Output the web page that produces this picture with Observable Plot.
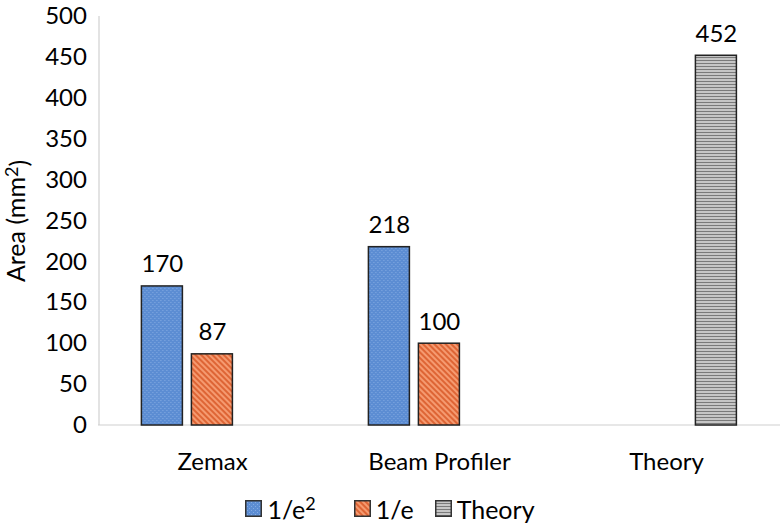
<!DOCTYPE html>
<html>
<head>
<meta charset="utf-8">
<script src="https://cdn.jsdelivr.net/npm/d3@7"></script>
<script src="https://cdn.jsdelivr.net/npm/@observablehq/plot@0.6"></script>
<style>
  html, body { margin: 0; padding: 0; background: #fff; }
  body { width: 780px; height: 527px; overflow: hidden; font-family: Lato, sans-serif; }
  #legend { display: flex; justify-content: center; align-items: center; height: 37px; font-size: 25px; color: #000; }
  .item { display: flex; align-items: center; }
  .item svg { margin-right: 5px; }
  .item sup { font-size: 0.72em; line-height: 0; position: relative; top: 0.05em; }
</style>
</head>
<body>
<svg width="0" height="0" style="position:absolute">
  <defs>
    <pattern id="pat-blue" width="4" height="4" patternUnits="userSpaceOnUse">
      <rect width="4" height="4" fill="#5c8dd3"></rect>
      <rect x="0" y="0" width="1" height="1" fill="#84abe2"></rect>
      <rect x="2" y="2" width="1" height="1" fill="#84abe2"></rect>
    </pattern>
    <pattern id="pat-orange" width="4" height="4" patternUnits="userSpaceOnUse" patternTransform="rotate(45)">
      <rect width="4" height="4" fill="#f59a70"></rect>
      <rect width="4" height="2" fill="#de6535"></rect>
    </pattern>
    <pattern id="pat-grey" width="4" height="3" patternUnits="userSpaceOnUse">
      <rect width="4" height="3" fill="#c6c6c6"></rect>
      <rect width="4" height="1" fill="#7a7a7a"></rect>
    </pattern>
  </defs>
</svg>
<div id="chart"></div>
<div id="legend"></div>
<script>
const categories = ["Zemax", "Beam Profiler", "Theory"];
const series = ["1/e²", "1/e", "Theory"];
const values1e2 = [170, 218, null];
const values1e = [87, 100, null];
const valuesTheory = [null, null, 452];
const yTicks = [0, 50, 100, 150, 200, 250, 300, 350, 400, 450, 500];
const yLabel = "Area (mm²)";
const patterns = ["url(#pat-blue)", "url(#pat-orange)", "url(#pat-grey)"];

const seriesValues = [values1e2, values1e, valuesTheory];
const rows = [];
categories.forEach((c, i) => {
  series.forEach((s, j) => {
    const v = seriesValues[j][i];
    if (v != null) rows.push({category: c, series: s, value: v});
  });
});

const chart = Plot.plot({
  width: 780,
  height: 490,
  marginLeft: 136.6,
  marginRight: 38.8,
  marginTop: 16,
  marginBottom: 65,
  style: {fontFamily: "Lato, sans-serif", fontSize: "24px", color: "#000", background: "#fff"},
  fx: {domain: categories, paddingInner: 0.34, paddingOuter: 0, axis: "bottom", tickSize: 0, tickPadding: 27, label: null},
  x: {domain: series, paddingInner: 0.18, paddingOuter: 0.09, axis: null},
  y: {domain: [0, 500], ticks: yTicks, tickSize: 0, tickPadding: 50.6, label: yLabel, labelArrow: "none", labelAnchor: "center", labelOffset: 130},
  color: {domain: series, range: patterns},
  marks: [
    Plot.barY(rows, {fx: "category", x: "series", y: "value", fill: "series", stroke: "#222", strokeWidth: 1.5}),
    Plot.text(rows, {fx: "category", x: "series", y: "value", text: d => String(d.value), lineAnchor: "bottom", dy: -14, fill: "#000", fontSize: 24})
  ]
});
document.getElementById("chart").appendChild(chart);

// axis line and baseline, positioned through the plot's own y scale
const ys = chart.scale("y");
const svg = d3.select(chart);
const first = chart.querySelector("g");
const y0 = ys.apply(0), yTop = ys.apply(500);
const lines = svg.insert("g", () => first).attr("stroke", "#d0d0d0").attr("stroke-width", 1.2);
lines.append("line").attr("x1", 99).attr("x2", 99).attr("y1", yTop).attr("y2", y0);
lines.append("line").attr("x1", 98).attr("x2", 780).attr("y1", y0).attr("y2", y0);

// render the axis label's superscript as a proper raised "2"
svg.selectAll("text").filter(function() { return this.textContent === yLabel; }).each(function() {
  const t = d3.select(this);
  t.attr("font-size", 25).text(yLabel.slice(0, -2));
  t.append("tspan").attr("dy", "-0.4em").attr("font-size", "0.72em").text("2");
  t.append("tspan").attr("dy", "0.4em").text(")");
});

// legend
const legend = d3.select("#legend");
series.forEach((s, j) => {
  const item = legend.append("div").attr("class", "item").style("margin-right", j === 0 ? "38px" : j === 1 ? "21px" : "0px");
  const sw = item.append("svg").attr("width", 17).attr("height", 17);
  sw.append("rect").attr("x", 0.75).attr("y", 0.75).attr("width", 15.5).attr("height", 15.5)
    .attr("fill", patterns[j]).attr("stroke", "#333").attr("stroke-width", 1.5);
  const label = item.append("span");
  if (s.endsWith("²")) {
    label.text(s.slice(0, -1));
    label.append("sup").text("2");
  } else {
    label.text(s);
  }
});
</script>
</body>
</html>
